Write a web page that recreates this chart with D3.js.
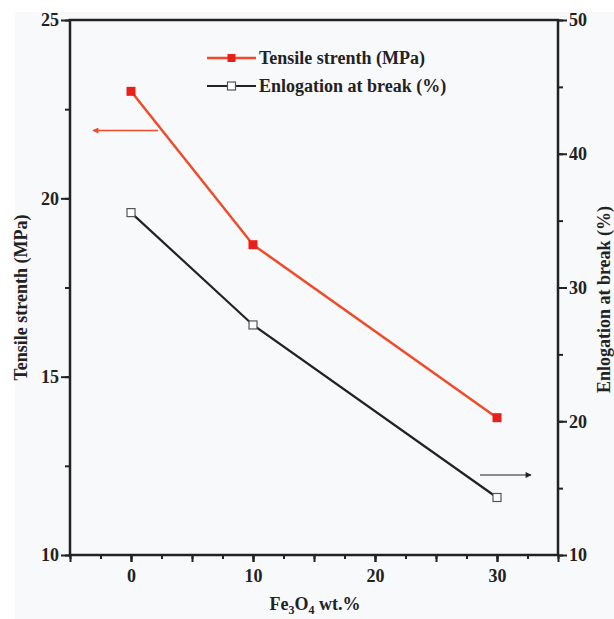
<!DOCTYPE html>
<html>
<head>
<meta charset="utf-8">
<script src="https://cdn.jsdelivr.net/npm/d3@7"></script>
<style>
  html, body { margin: 0; padding: 0; background: #ffffff; }
  svg { display: block; }
  text { font-family: "Liberation Serif", "Times New Roman", serif; font-weight: bold; fill: #222; }
</style>
</head>
<body>
<svg id="chart" width="614" height="619"></svg>
<script>
// Fe3O4 loading (wt.%)
const loadings = [0, 10, 30];
// Tensile strength (MPa), left axis
const tensile = [23.0, 18.7, 13.85];
// Elongation at break (%), right axis
const elongation = [35.6, 27.2, 14.3];
const xTickLabels = [0, 10, 20, 30];
const yLeftTickLabels = [10, 15, 20, 25];
const yRightTickLabels = [10, 20, 30, 40, 50];
const seriesNames = ["Tensile strenth (MPa)", "Enlogation at break (%)"];

const svg = d3.select("#chart");
const W = 614, H = 619;
const m = { left: 70, right: 56, top: 20, bottom: 64 };
const x0 = m.left, x1 = W - m.right, y0 = m.top, y1 = H - m.bottom;
const FS = 18;

svg.append("rect").attr("x", 15).attr("y", 12).attr("width", W - 15).attr("height", H - 12)
  .attr("fill", "#f8f9fb");

const x = d3.scaleLinear().domain([-5, 35]).range([x0, x1]);
const yL = d3.scaleLinear().domain([10, 25]).range([y1, y0]);
const yR = d3.scaleLinear().domain([10, 50]).range([y1, y0]);

const axisColor = "#222";
const fmtSel = (sel) => {
  sel.select(".domain").remove();
  sel.selectAll("line").attr("stroke", axisColor).attr("stroke-width", 2);
  sel.selectAll("text").attr("font-size", FS).attr("fill", "#222")
    .style("font-family", "'Liberation Serif', serif").style("font-weight", "bold");
};

// minor and major ticks
svg.append("g").attr("transform", `translate(0,${y1})`)
  .call(d3.axisBottom(x).tickValues(d3.range(-5, 35.1, 2.5)).tickSize(4).tickFormat(""))
  .call(fmtSel);
svg.append("g").attr("transform", `translate(0,${y1})`)
  .call(d3.axisBottom(x).tickValues(d3.range(-5, 35.1, 5)).tickSize(7).tickFormat(""))
  .call(fmtSel);
svg.append("g").attr("transform", `translate(0,${y1})`)
  .call(d3.axisBottom(x).tickValues(xTickLabels).tickSize(7).tickPadding(7).tickFormat(d3.format("d")))
  .call(fmtSel);

svg.append("g").attr("transform", `translate(${x0},0)`)
  .call(d3.axisLeft(yL).tickValues(d3.range(10, 25.1, 2.5)).tickSize(5).tickFormat(""))
  .call(fmtSel);
svg.append("g").attr("transform", `translate(${x0},0)`)
  .call(d3.axisLeft(yL).tickValues(yLeftTickLabels).tickSize(9).tickPadding(2).tickFormat(d3.format("d")))
  .call(fmtSel);

svg.append("g").attr("transform", `translate(${x1},0)`)
  .call(d3.axisRight(yR).tickValues(d3.range(10, 50.1, 5)).tickSize(5).tickFormat(""))
  .call(fmtSel);
svg.append("g").attr("transform", `translate(${x1},0)`)
  .call(d3.axisRight(yR).tickValues(yRightTickLabels).tickSize(9).tickPadding(2).tickFormat(d3.format("d")))
  .call(fmtSel);

// frame
svg.append("rect").attr("x", x0).attr("y", y0).attr("width", x1 - x0).attr("height", y1 - y0)
  .attr("fill", "none").attr("stroke", axisColor).attr("stroke-width", 2.5);

// series
const red = "#f04a28", redMark = "#e8201a", black = "#222";
const lineL = d3.line().x((d, i) => x(loadings[i])).y(d => yL(d));
const lineR = d3.line().x((d, i) => x(loadings[i])).y(d => yR(d));

svg.append("path").datum(tensile).attr("d", lineL).attr("fill", "none")
  .attr("stroke", red).attr("stroke-width", 2.5);
svg.append("path").datum(elongation).attr("d", lineR).attr("fill", "none")
  .attr("stroke", black).attr("stroke-width", 2.2);

svg.selectAll(".mT").data(tensile).enter().append("rect")
  .attr("x", (d, i) => x(loadings[i]) - 4.5).attr("y", d => yL(d) - 4.5)
  .attr("width", 9).attr("height", 9).attr("fill", redMark);
svg.selectAll(".mE").data(elongation).enter().append("rect")
  .attr("x", (d, i) => x(loadings[i]) - 4).attr("y", d => yR(d) - 4)
  .attr("width", 8).attr("height", 8).attr("fill", "#fff").attr("stroke", "#555").attr("stroke-width", 1.2);

// direction arrows
const defs = svg.append("defs");
[["arrRed", red], ["arrBlk", black]].forEach(([id, c]) => {
  defs.append("marker").attr("id", id).attr("viewBox", "0 0 10 10").attr("refX", 9).attr("refY", 5)
    .attr("markerWidth", 10).attr("markerHeight", 6).attr("markerUnits", "userSpaceOnUse")
    .attr("orient", "auto")
    .append("path").attr("d", "M0,0 L10,5 L0,10 Z").attr("fill", c);
});
svg.append("line").attr("x1", 158).attr("y1", 130.5).attr("x2", 93).attr("y2", 130.5)
  .attr("stroke", red).attr("stroke-width", 1.5).attr("marker-end", "url(#arrRed)");
svg.append("line").attr("x1", 480).attr("y1", 475).attr("x2", 531).attr("y2", 475)
  .attr("stroke", black).attr("stroke-width", 1.2).attr("marker-end", "url(#arrBlk)");

// legend
const legend = svg.append("g");
const legRows = [
  { name: seriesNames[0], y: 58, stroke: red, w: 2.5, fill: redMark, ms: "none" },
  { name: seriesNames[1], y: 86, stroke: black, w: 2.2, fill: "#fff", ms: "#555" }
];
legRows.forEach(r => {
  legend.append("line").attr("x1", 207).attr("x2", 256).attr("y1", r.y).attr("y2", r.y)
    .attr("stroke", r.stroke).attr("stroke-width", r.w);
  legend.append("rect").attr("x", 227.5).attr("y", r.y - 4).attr("width", 8).attr("height", 8)
    .attr("fill", r.fill).attr("stroke", r.ms).attr("stroke-width", 1.2);
  legend.append("text").attr("x", 259).attr("y", r.y + 6).attr("font-size", FS).text(r.name);
});

// axis titles
svg.append("text").attr("transform", `translate(27,${(y0 + y1) / 2 + 10}) rotate(-90)`)
  .attr("text-anchor", "middle").attr("font-size", FS).text(seriesNames[0]);
svg.append("text").attr("transform", `translate(610,${(y0 + y1) / 2 + 12}) rotate(-90)`)
  .attr("text-anchor", "middle").attr("font-size", FS).text(seriesNames[1]);

const xt = svg.append("text").attr("x", (x0 + x1) / 2 + 1).attr("y", 610)
  .attr("text-anchor", "middle").attr("font-size", FS);
xt.append("tspan").text("Fe");
xt.append("tspan").attr("font-size", 12).attr("dy", 4).text("3");
xt.append("tspan").attr("dy", -4).text("O");
xt.append("tspan").attr("font-size", 12).attr("dy", 4).text("4");
xt.append("tspan").attr("dy", -4).text(" wt.%");
</script>
</body>
</html>
